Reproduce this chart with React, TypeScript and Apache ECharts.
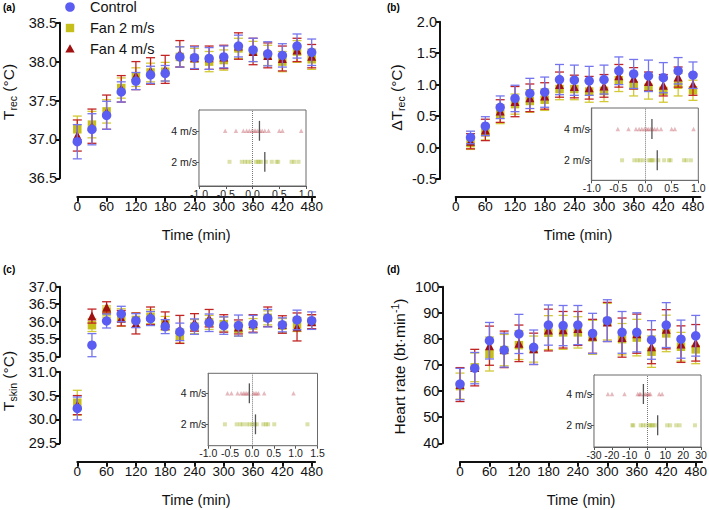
import React, { useEffect, useRef } from "react";
import * as echarts from "echarts";

const FONT = "'Liberation Sans', Arial, Helvetica, sans-serif";

const seriesNames = ["Control", "Fan 2 m/s", "Fan 4 m/s"];
const timesAll = [0, 30, 60, 90, 120, 150, 180, 210, 240, 270, 300, 330, 360, 390, 420, 450, 480];
const timesB = [30, 60, 90, 120, 150, 180, 210, 240, 270, 300, 330, 360, 390, 420, 450, 480];
const timeTicks = [0, 60, 120, 180, 240, 300, 360, 420, 480];

// (a) Trec
const aControl = [36.97, 37.13, 37.31, 37.61, 37.75, 37.83, 37.85, 38.06, 38.05, 38.04, 38.06, 38.2, 38.15, 38.1, 38.08, 38.2, 38.12];
const aControlSD = [0.22, 0.2, 0.18, 0.13, 0.11, 0.11, 0.1, 0.13, 0.14, 0.14, 0.14, 0.14, 0.15, 0.155, 0.15, 0.155, 0.17];
const aFan2 = [37.13, 37.19, 37.36, 37.66, 37.8, 37.86, 37.87, 38.06, 38.04, 38.0, 38.02, 38.17, 38.13, 38.08, 38.0, 38.13, 38.03];
const aFan2SD = [0.17, 0.17, 0.15, 0.13, 0.12, 0.12, 0.12, 0.13, 0.13, 0.13, 0.13, 0.13, 0.13, 0.13, 0.13, 0.14, 0.13];
const aFan4 = [37.05, 37.17, 37.35, 37.65, 37.82, 37.88, 37.9, 38.1, 38.05, 38.05, 38.06, 38.2, 38.13, 38.08, 38.04, 38.15, 38.07];
const aFan4SD = [0.2, 0.22, 0.22, 0.17, 0.18, 0.17, 0.18, 0.17, 0.15, 0.15, 0.15, 0.17, 0.17, 0.16, 0.16, 0.15, 0.15];

// (b) delta Trec
const bControl = [0.16, 0.34, 0.64, 0.78, 0.86, 0.88, 1.08, 1.07, 1.06, 1.08, 1.22, 1.17, 1.14, 1.11, 1.22, 1.15];
const bControlSD = [0.1, 0.15, 0.18, 0.21, 0.24, 0.24, 0.24, 0.24, 0.23, 0.23, 0.22, 0.23, 0.25, 0.24, 0.21, 0.21];
const bFan2 = [0.07, 0.24, 0.53, 0.69, 0.74, 0.76, 0.93, 0.93, 0.89, 0.9, 1.07, 0.99, 0.95, 0.9, 1.0, 0.91];
const bFan2SD = [0.1, 0.12, 0.15, 0.16, 0.18, 0.17, 0.17, 0.17, 0.17, 0.17, 0.18, 0.17, 0.18, 0.18, 0.18, 0.16];
const bFan4 = [0.1, 0.28, 0.58, 0.73, 0.79, 0.82, 1.0, 0.97, 0.95, 0.98, 1.14, 1.1, 1.05, 0.99, 1.12, 1.0];
const bFan4SD = [0.12, 0.17, 0.18, 0.24, 0.22, 0.21, 0.2, 0.18, 0.18, 0.18, 0.18, 0.17, 0.15, 0.17, 0.16, 0.17];

// (c) Tskin
const cControl = [30.23, 35.33, 36.02, 36.22, 36.03, 36.09, 35.86, 35.71, 35.86, 35.97, 35.89, 35.89, 35.93, 36.1, 35.91, 36.05, 36.03];
const cControlSD = [0.24, 0.33, 0.2, 0.22, 0.2, 0.2, 0.2, 0.25, 0.22, 0.25, 0.25, 0.3, 0.25, 0.25, 0.2, 0.28, 0.25];
const cFan2 = [30.35, 35.9, 36.29, 36.12, 36.05, 36.14, 35.95, 35.59, 35.86, 35.98, 35.93, 35.79, 35.89, 36.11, 35.89, 35.92, 36.0];
const cFan2SD = [0.26, 0.18, 0.16, 0.25, 0.2, 0.2, 0.2, 0.2, 0.2, 0.2, 0.2, 0.2, 0.2, 0.2, 0.2, 0.2, 0.2];
const cFan4 = [30.3, 36.16, 36.41, 36.1, 35.95, 36.17, 36.03, 35.78, 35.98, 36.1, 35.95, 35.85, 35.95, 36.14, 35.92, 35.85, 36.0];
const cFan4SD = [0.2, 0.2, 0.16, 0.22, 0.3, 0.25, 0.25, 0.4, 0.25, 0.25, 0.25, 0.2, 0.25, 0.28, 0.25, 0.4, 0.2];

// (d) Heart rate
const dControl = [62.7, 68.8, 79.3, 75.7, 81.9, 76.8, 85.3, 85.1, 85.3, 82.1, 87.0, 82.5, 82.5, 79.6, 85.3, 79.9, 81.2];
const dControlSD = [6, 6, 7, 6.5, 7.5, 6.6, 7.7, 7.7, 7.5, 7.7, 8, 8, 7.5, 7.4, 8.6, 7.3, 7.8];
const dFan2 = [61.9, 69.1, 74.2, 75.7, 77.6, 76.1, 82.4, 82.5, 82.5, 80.6, 86.6, 79.9, 80.5, 75.1, 82.1, 77.0, 76.0];
const dFan2SD = [5, 5.5, 6.5, 6, 5.5, 5, 6.5, 6.5, 6, 6.5, 7, 6, 7, 6, 7, 5.5, 5.5];
const dFan4 = [62.5, 69.0, 77.4, 76.0, 78.3, 76.2, 83.4, 83.5, 84.0, 81.0, 86.5, 80.5, 82.0, 77.0, 83.7, 78.0, 78.5];
const dFan4SD = [6.5, 7, 7.5, 7, 7, 6, 8, 7, 6.5, 6.5, 7.5, 7.5, 7.5, 6.5, 7.5, 7, 7];

// insets: individual differences vs control (row 0 = 2 m/s, row 1 = 4 m/s)
const insetRows = ["2 m/s", "4 m/s"];
const insetA4 = [-0.51, -0.31, -0.17, -0.11, -0.06, -0.01, 0.03, 0.06, 0.1, 0.14, 0.18, 0.23, 0.3, 0.5, 0.56, 0.91];
const insetA2 = [-0.43, -0.2, -0.14, -0.09, -0.03, 0.065, 0.1, 0.13, 0.16, 0.25, 0.36, 0.45, 0.48, 0.73, 0.78, 0.86];
const insetAMeans = [0.23, 0.13];
const insetC4 = [-0.56, -0.47, -0.33, -0.25, -0.2, -0.16, -0.12, -0.08, 0.03, 0.07, 0.11, 0.15, 0.28, 0.95];
const insetC2 = [-0.62, -0.35, -0.27, -0.21, -0.12, -0.05, 0.01, 0.07, 0.11, 0.26, 0.32, 0.37, 0.51, 1.27];
const insetCMeans = [0.08, -0.06];
const insetD4 = [-22.2, -19.9, -12.9, -5.5, -4.5, -3.8, -2.0, -1.0, 0.0, 0.8, 1.6, 6.6, 8.2];
const insetD2 = [-8.5, -8.0, -3.8, -2.5, -0.9, 0.9, 1.5, 2.5, 3.2, 4.4, 11.0, 12.7, 16.1, 18.0, 26.6];
const insetDMeans = [5.7, -2.3];

const C_CTRL = "#5b5cf2";
const C_CTRL_BAR = "#7475ee";
const C_F2 = "#c6bf1b";
const C_F2_BAR = "#d2c935";
const C_F4 = "#a01010";
const C_F4_BAR = "#c22424";
const AX = "#111";

const triples = (xs: number[], ys: number[], sds: number[]) => xs.map((x, i) => [x, ys[i], sds[i]]);

function errBars(data: number[][], color: string, xi: number, yi: number, z: number) {
  return {
    type: "custom",
    xAxisIndex: xi,
    yAxisIndex: yi,
    z,
    silent: true,
    encode: { x: 0, y: 1 },
    data,
    renderItem: (_p: any, api: any) => {
      const x = api.value(0);
      const y = api.value(1);
      const e = api.value(2);
      const t = api.coord([x, y + e]);
      const b = api.coord([x, y - e]);
      const w = 4.5;
      const st = { stroke: color, lineWidth: 1.3 };
      return {
        type: "group",
        children: [
          { type: "line", shape: { x1: t[0], y1: t[1], x2: b[0], y2: b[1] }, style: st },
          { type: "line", shape: { x1: t[0] - w, y1: t[1], x2: t[0] + w, y2: t[1] }, style: st },
          { type: "line", shape: { x1: b[0] - w, y1: b[1], x2: b[0] + w, y2: b[1] }, style: st },
        ],
      };
    },
  };
}

function pts(name: string, data: number[][], symbol: string, size: number, color: string, xi: number, yi: number, z: number) {
  return {
    type: "scatter",
    name,
    xAxisIndex: xi,
    yAxisIndex: yi,
    z,
    symbol,
    symbolSize: size,
    itemStyle: { color, opacity: 1 },
    encode: { x: 0, y: 1 },
    data: data.map((d) => [d[0], d[1]]),
  };
}

function panel(times: number[], ctrl: number[], ctrlSD: number[], f2: number[], f2SD: number[], f4: number[], f4SD: number[], xi: number, yi: number, filter?: (t: number) => boolean) {
  const sel = (d: number[][]) => (filter ? d.filter((r) => filter(r[0])) : d);
  const dc = sel(triples(times, ctrl, ctrlSD));
  const d2 = sel(triples(times, f2, f2SD));
  const d4 = sel(triples(times, f4, f4SD));
  return [
    errBars(d2, C_F2_BAR, xi, yi, 2),
    pts(seriesNames[1], d2, "rect", 8.5, C_F2, xi, yi, 3),
    errBars(d4, C_F4_BAR, xi, yi, 4),
    pts(seriesNames[2], d4, "triangle", 9, C_F4, xi, yi, 5),
    errBars(dc, C_CTRL_BAR, xi, yi, 6),
    pts(seriesNames[0], dc, "circle", 9.5, C_CTRL, xi, yi, 7),
  ];
}

function inset(v4: number[], v2: number[], means: number[], xi: number) {
  return [
    {
      type: "scatter",
      xAxisIndex: xi,
      yAxisIndex: xi,
      symbol: "rect",
      symbolSize: 4,
      itemStyle: { color: "rgba(165,180,40,0.5)" },
      data: v2.map((v) => [v, 0]),
      z: 3,
      markLine: {
        silent: true,
        symbol: ["none", "none"],
        label: { show: false },
        lineStyle: { type: "dotted", color: "#777", width: 1 },
        data: [{ xAxis: 0 }],
      },
    },
    {
      type: "scatter",
      xAxisIndex: xi,
      yAxisIndex: xi,
      symbol: "triangle",
      symbolSize: 4.5,
      itemStyle: { color: "rgba(190,80,90,0.5)" },
      data: v4.map((v) => [v, 1]),
      z: 3,
    },
    {
      type: "custom",
      xAxisIndex: xi,
      yAxisIndex: xi,
      z: 4,
      silent: true,
      data: means.map((m, i) => [m, i]),
      renderItem: (_p: any, api: any) => {
        const a = api.coord([api.value(0), api.value(1) + 0.32]);
        const b = api.coord([api.value(0), api.value(1) - 0.32]);
        return { type: "line", shape: { x1: a[0], y1: a[1], x2: b[0], y2: b[1] }, style: { stroke: "#555", lineWidth: 1.3 } };
      },
    },
  ];
}

function mainX(gridIndex: number, max: number, offset: number, show = true, name = "Time (min)") {
  return {
    type: "value",
    gridIndex,
    min: 0,
    max,
    offset,
    show,
    name: show ? name : "",
    nameLocation: "middle",
    nameGap: 31,
    nameTextStyle: { fontSize: 14.5, color: AX, fontFamily: FONT },
    axisLine: { show, onZero: false, lineStyle: { color: AX, width: 2 } },
    axisTick: { show, length: 5, customValues: timeTicks, lineStyle: { color: AX, width: 2 } },
    axisLabel: { show, customValues: timeTicks, fontSize: 13.5, color: AX, margin: 3, fontFamily: FONT },
    splitLine: { show: false },
  };
}

function mainY(gridIndex: number, min: number, max: number, interval: number, offset: number, dec: number) {
  return {
    type: "value",
    gridIndex,
    min,
    max,
    interval,
    offset,
    axisLine: { show: true, onZero: false, lineStyle: { color: AX, width: 2 } },
    axisTick: { show: true, length: 4, lineStyle: { color: AX, width: 2 } },
    axisLabel: { fontSize: 14.5, color: AX, margin: 3, fontFamily: FONT, formatter: (v: number) => v.toFixed(dec) },
    splitLine: { show: false },
  };
}

function insetX(gridIndex: number, min: number, max: number, interval: number, dec: number) {
  return {
    type: "value",
    gridIndex,
    min,
    max,
    interval,
    axisLine: { show: true, onZero: false, lineStyle: { color: "#555", width: 1.2 } },
    axisTick: { show: true, length: 3, lineStyle: { color: "#555", width: 1 } },
    axisLabel: { fontSize: 10.5, color: "#222", margin: 2, fontFamily: FONT, formatter: (v: number) => v.toFixed(dec) },
    splitLine: { show: false },
  };
}

function insetY(gridIndex: number, min: number, max: number) {
  return {
    type: "value",
    gridIndex,
    min,
    max,
    axisLine: { show: true, onZero: false, lineStyle: { color: "#555", width: 1.2 } },
    axisTick: { show: true, length: 3, customValues: [0, 1], lineStyle: { color: "#555", width: 1 } },
    axisLabel: { fontSize: 10.5, color: "#222", margin: 2, fontFamily: FONT, customValues: [0, 1], formatter: (v: number) => insetRows[Math.round(v)] },
    splitLine: { show: false },
  };
}

const insetGrid = { show: true, borderColor: "#6a6a6a", borderWidth: 1, backgroundColor: "#fff", outerBoundsMode: "none", containLabel: false, z: 1 };
const mainGrid = { outerBoundsMode: "none", containLabel: false };

function yName(x: number, y: number, text: string) {
  return {
    type: "text",
    x,
    y,
    rotation: Math.PI / 2,
    style: {
      text,
      fill: AX,
      align: "center",
      verticalAlign: "middle",
      fontFamily: FONT,
      fontSize: 15.5,
      rich: {
        m: { fontSize: 15.5, fontFamily: FONT, fill: AX },
        s: { fontSize: 10.5, fontFamily: FONT, fill: AX, padding: [9, 0, 0, 0] },
        p: { fontSize: 10.5, fontFamily: FONT, fill: AX, padding: [0, 0, 9, 0] },
      },
    },
  };
}

function panelLabel(x: number, y: number, text: string) {
  return { type: "text", x, y, style: { text, fill: "#000", fontSize: 10, fontWeight: "bold", fontFamily: FONT, verticalAlign: "middle" } };
}

export default function App() {
  const ref = useRef<HTMLDivElement>(null);
  useEffect(() => {
    document.body.style.margin = "0";
    const chart = echarts.init(ref.current!, undefined, { renderer: "svg" });
    const legendSyms = [
      { type: "circle", shape: { cx: 70, cy: 7, r: 4.8 }, style: { fill: C_CTRL } },
      { type: "rect", shape: { x: 65.8, y: 23.8, width: 8.4, height: 8.4 }, style: { fill: C_F2 } },
      { type: "polygon", shape: { points: [[70, 44.3], [74.7, 52.6], [65.3, 52.6]] }, style: { fill: C_F4 } },
    ];
    const legendTexts = seriesNames.map((n, i) => ({
      type: "text",
      x: 90,
      y: 7 + i * 21,
      style: { text: n, fill: AX, fontSize: 14.5, fontFamily: FONT, verticalAlign: "middle" },
    }));
    const option: any = {
      animation: false,
      backgroundColor: "#fff",
      textStyle: { fontFamily: FONT },
      grid: [
        { ...mainGrid, left: 77.3, top: 22.7, width: 237.8, height: 155.6 },
        { ...mainGrid, left: 455.7, top: 21.7, width: 244.7, height: 157.3 },
        { ...mainGrid, left: 77.3, top: 286.7, width: 237.8, height: 70 },
        { ...mainGrid, left: 77.3, top: 371.7, width: 237.8, height: 71.6 },
        { ...mainGrid, left: 460, top: 286.7, width: 242.1, height: 156.6 },
        { ...insetGrid, left: 199, top: 110, width: 107, height: 76 },
        { ...insetGrid, left: 591.7, top: 108, width: 106.6, height: 72.3 },
        { ...insetGrid, left: 208.3, top: 373.3, width: 109.2, height: 72.4 },
        { ...insetGrid, left: 594, top: 375, width: 107, height: 72 },
      ],
      xAxis: [
        mainX(0, 487, 18.4),
        mainX(1, 495, 17.7),
        mainX(2, 487, 0, false),
        mainX(3, 487, 18.4),
        mainX(4, 493, 18.4),
        insetX(5, -1, 1, 0.5, 1),
        insetX(6, -1, 1, 0.5, 1),
        insetX(7, -1, 1.5, 0.5, 1),
        insetX(8, -30, 30, 10, 0),
      ],
      yAxis: [
        mainY(0, 36.5, 38.5, 0.5, 17.3, 1),
        mainY(1, -0.5, 2.0, 0.5, 15.7, 1),
        mainY(2, 35, 37, 0.5, 17.3, 1),
        mainY(3, 29.5, 31, 0.5, 17.3, 1),
        mainY(4, 40, 100, 10, 17.7, 0),
        insetY(5, -0.78, 1.67),
        insetY(6, -0.64, 1.67),
        insetY(7, -0.69, 1.645),
        insetY(8, -0.693, 1.607),
      ],
      series: [
        ...panel(timesAll, aControl, aControlSD, aFan2, aFan2SD, aFan4, aFan4SD, 0, 0),
        ...panel(timesB, bControl, bControlSD, bFan2, bFan2SD, bFan4, bFan4SD, 1, 1),
        ...panel(timesAll, cControl, cControlSD, cFan2, cFan2SD, cFan4, cFan4SD, 2, 2, (t) => t > 0),
        ...panel(timesAll, cControl, cControlSD, cFan2, cFan2SD, cFan4, cFan4SD, 3, 3, (t) => t === 0),
        ...panel(timesAll, dControl, dControlSD, dFan2, dFan2SD, dFan4, dFan4SD, 4, 4),
        ...inset(insetA4, insetA2, insetAMeans, 5),
        ...inset(insetA4, insetA2, insetAMeans, 6),
        ...inset(insetC4, insetC2, insetCMeans, 7),
        ...inset(insetD4, insetD2, insetDMeans, 8),
      ],
      graphic: [
        ...legendSyms,
        ...legendTexts,
        panelLabel(3, 7.5, "(a)"),
        panelLabel(387, 7.5, "(b)"),
        panelLabel(3, 269.5, "(c)"),
        panelLabel(387, 269, "(d)"),
        yName(8.5, 92, "{m|T}{s|rec}{m| (°C)}"),
        yName(396, 97.5, "{m|ΔT}{s|rec}{m| (°C)}"),
        yName(8.5, 381, "{m|T}{s|skin}{m| (°C)}"),
        yName(399, 366.5, "{m|Heart rate (bt·min}{p|-1}{m|)}"),
      ],
    };
    chart.setOption(option);
    return () => chart.dispose();
  }, []);
  return <div ref={ref} style={{ width: 709, height: 510 }} />;
}
